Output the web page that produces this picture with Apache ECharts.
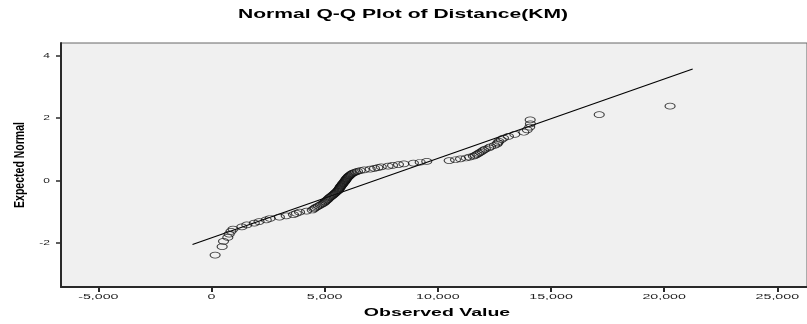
<!DOCTYPE html>
<html lang="en">
<head>
  <meta charset="UTF-8">
  <title>Normal Q-Q Plot of Distance(KM)</title>
  <style>
    body, html { margin: 0; padding: 0; background: #fff; }
    #main { width: 807px; height: 324px; }
  </style>
</head>
<body>
  <div id="main"></div>
  <script src="https://cdn.jsdelivr.net/npm/echarts@6/dist/echarts.min.js"></script>
  <script>
    // observed values (sorted) and expected normal value of each point
    var observed = [
      160, 470, 530, 720, 780, 860, 950, 1340, 1560, 1890,
      2100, 2420, 2590, 3000, 3300, 3620, 3750, 3890, 4200, 4450,
      4520, 4580, 4650, 4720, 4800, 4870, 4940, 4990, 5030, 5070,
      5110, 5150, 5190, 5230, 5270, 5320, 5360, 5400, 5440, 5470,
      5510, 5550, 5580, 5610, 5630, 5650, 5670, 5690, 5710, 5730,
      5760, 5780, 5800, 5830, 5850, 5880, 5900, 5920, 5940, 5960,
      5980, 6010, 6040, 6070, 6100, 6140, 6180, 6230, 6290, 6360,
      6450, 6570, 6750, 7010, 7200, 7350, 7500, 7800, 8000, 8260,
      8500, 8920, 9220, 9510, 10500, 10780, 11000, 11250, 11400, 11570,
      11650, 11730, 11800, 11870, 11950, 12020, 12100, 12250, 12330, 12500,
      12610, 12650, 12700, 12800, 12900, 13120, 13400, 13800, 13950, 14060,
      14090, 14080, 17130, 20260
    ];
    var expected = [
      -2.38, -2.11, -1.94, -1.815, -1.711, -1.624, -1.547, -1.479, -1.417, -1.36,
      -1.307, -1.257, -1.21, -1.166, -1.124, -1.084, -1.045, -1.009, -0.973, -0.939,
      -0.905, -0.873, -0.842, -0.811, -0.781, -0.752, -0.724, -0.696, -0.668, -0.641,
      -0.615, -0.588, -0.562, -0.537, -0.512, -0.487, -0.463, -0.439, -0.415, -0.391,
      -0.367, -0.344, -0.321, -0.298, -0.275, -0.253, -0.23, -0.208, -0.186, -0.164,
      -0.142, -0.12, -0.098, -0.076, -0.055, -0.033, -0.011, 0.011, 0.033, 0.055,
      0.076, 0.098, 0.12, 0.142, 0.164, 0.186, 0.208, 0.23, 0.253, 0.275,
      0.298, 0.321, 0.344, 0.367, 0.391, 0.415, 0.439, 0.463, 0.487, 0.512,
      0.537, 0.562, 0.588, 0.615, 0.641, 0.668, 0.696, 0.724, 0.752, 0.781,
      0.811, 0.842, 0.873, 0.905, 0.939, 0.973, 1.009, 1.045, 1.084, 1.124,
      1.166, 1.21, 1.257, 1.307, 1.36, 1.417, 1.479, 1.547, 1.624, 1.711,
      1.815, 1.94, 2.11, 2.38
    ];
    // reference line end points
    var lineX = [-840, 21260];
    var lineY = [-2.04, 3.57];
    // tick labels
    var xTicks = [-5000, 0, 5000, 10000, 15000, 20000, 25000];
    var yTicks = [-2, 0, 2, 4];

    var xMin = -6650, xMax = 26310, yMin = -3.4, yMax = 4.4;
    var points = observed.map(function (v, i) { return [v, expected[i]]; });
    var linePts = lineX.map(function (v, i) { return [v, lineY[i]]; });

    var chart = echarts.init(document.getElementById('main'));
    var FONT = '"Liberation Sans", Arial, sans-serif';

    var option = {
      animation: false,
      grid: {
        left: 61, right: 0, top: 43, bottom: 37,
        show: true,
        backgroundColor: '#f0f0f0',
        borderColor: '#666',
        borderWidth: 1
      },
      xAxis: {
        type: 'value',
        min: xMin, max: xMax,
        splitLine: { show: false },
        axisLine: { onZero: false, lineStyle: { color: '#2a2a2a', width: 2 } },
        axisTick: { show: true, length: 5, customValues: xTicks, lineStyle: { color: '#2a2a2a', width: 2 } },
        axisLabel: { show: false }
      },
      yAxis: {
        type: 'value',
        min: yMin, max: yMax,
        splitLine: { show: false },
        axisLine: { onZero: false, lineStyle: { color: '#2a2a2a', width: 2 } },
        axisTick: { show: true, length: 5, customValues: yTicks, lineStyle: { color: '#2a2a2a', width: 1.5 } },
        axisLabel: { show: false }
      },
      series: [
        {
          type: 'line',
          data: linePts,
          symbol: 'none',
          lineStyle: { color: '#000', width: 1.2 },
          z: 2
        },
        {
          type: 'scatter',
          data: points,
          symbol: 'path://M0,5a5,5 0 1,0 10,0a5,5 0 1,0 -10,0z',
          symbolSize: [10, 6],
          itemStyle: { color: 'rgba(0,0,0,0)', borderColor: '#111', borderWidth: 0.9 },
          z: 3
        }
      ]
    };
    chart.setOption(option);

    // the source picture is stretched sideways, so texts are drawn with a scale
    function fmt(v) { return v.toLocaleString('en-US'); }
    var g = [];
    xTicks.forEach(function (v) {
      var p = chart.convertToPixel({ gridIndex: 0 }, [v, yMin]);
      g.push({
        type: 'text', x: p[0], y: p[1] + 10, scaleX: 1.9,
        style: { text: fmt(v), fill: '#222', font: '7.5px ' + FONT, align: 'center', verticalAlign: 'middle' }
      });
    });
    yTicks.forEach(function (v) {
      var p = chart.convertToPixel({ gridIndex: 0 }, [xMin, v]);
      g.push({
        type: 'text', x: p[0] - 11, y: p[1], scaleX: 1.6,
        style: { text: String(v), fill: '#222', font: '7.5px ' + FONT, align: 'right', verticalAlign: 'middle' }
      });
    });
    // title and axis names
    g.push({
      type: 'text', x: 403, y: 14, scaleX: 1.62,
      style: { text: 'Normal Q-Q Plot of Distance(KM)', fill: '#000', font: 'bold 13px ' + FONT, align: 'center', verticalAlign: 'middle' }
    });
    g.push({
      type: 'text', x: 437, y: 313, scaleX: 1.95,
      style: { text: 'Observed Value', fill: '#000', font: 'bold 10px ' + FONT, align: 'center', verticalAlign: 'middle' }
    });
    g.push({
      type: 'text', x: 20, y: 165, rotation: Math.PI / 2, scaleY: 1.45,
      style: { text: 'Expected Normal', fill: '#000', font: 'bold 10.5px ' + FONT, align: 'center', verticalAlign: 'middle' }
    });
    chart.setOption({ graphic: g });
  </script>
</body>
</html>
